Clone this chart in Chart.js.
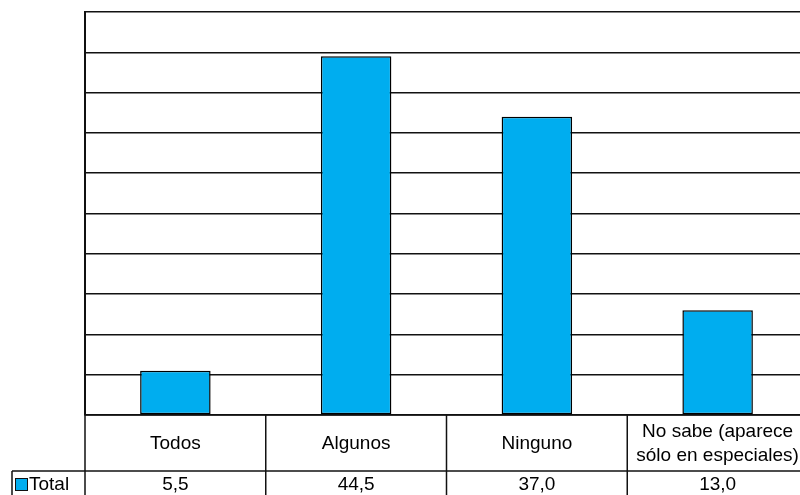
<!DOCTYPE html>
<html>
<head>
<meta charset="utf-8">
<script src="https://cdn.jsdelivr.net/npm/chart.js@4.4.1/dist/chart.umd.min.js"></script>
<style>
    html, body { margin: 0; padding: 0; background: #fff; overflow: hidden; }
    #wrap { width: 820px; height: 495px; }
</style>
</head>
<body>
<div id="wrap"><canvas id="chart" width="820" height="495"></canvas></div>
<script>
// Categories (multi-line labels as arrays) and the single "Total" series
const categories = ['Todos', 'Algunos', 'Ninguno', ['No sabe (aparece', 'sólo en especiales)']];
const seriesName = 'Total';
const totalValues = [5.5, 44.5, 37.0, 13.0];

const yMax = 50;
const yStep = 5;

const barColor = '#00adef';
const lineColor = '#111';
const tableFont = '19px "Liberation Sans", Arial, sans-serif';

// Format numbers with a decimal comma
function fmt(v) {
    return v.toFixed(1).replace('.', ',');
}

// Draws the data table under the plot: category row, value row, legend key
const dataTable = {
    id: 'dataTable',
    afterDraw(chart) {
        const ctx = chart.ctx;
        const x = chart.scales.x;
        const area = chart.chartArea;
        const rowTop = area.bottom;
        const rowMid = rowTop + 56;
        const rowEnd = chart.height + 5;
        const half = (x.getPixelForValue(1) - x.getPixelForValue(0)) / 2;

        ctx.save();
        ctx.strokeStyle = lineColor;
        ctx.lineWidth = 1.5;

        // horizontal rule between label row and value row
        ctx.beginPath();
        ctx.moveTo(12, rowMid);
        ctx.lineTo(chart.width, rowMid);
        ctx.stroke();

        // bottom rule of the plot
        ctx.beginPath();
        ctx.moveTo(area.left, rowTop);
        ctx.lineTo(chart.width, rowTop);
        ctx.stroke();

        // column separators
        ctx.beginPath();
        ctx.moveTo(area.left, area.top);
        ctx.lineTo(area.left, rowEnd);
        categories.forEach((c, i) => {
            const r = x.getPixelForValue(i) + half;
            ctx.moveTo(r, rowTop);
            ctx.lineTo(r, rowEnd);
        });
        // legend cell left edge
        ctx.moveTo(12, rowMid);
        ctx.lineTo(12, rowEnd);
        ctx.stroke();

        ctx.fillStyle = '#000';
        ctx.font = tableFont;
        ctx.textAlign = 'center';
        ctx.textBaseline = 'middle';

        const labelCenter = (rowTop + rowMid) / 2;
        const valueCenter = rowMid + 14;

        categories.forEach((c, i) => {
            const cx = x.getPixelForValue(i);
            const lines = Array.isArray(c) ? c : [c];
            const lh = 24;
            const start = labelCenter - (lines.length - 1) * lh / 2 + 1;
            lines.forEach((ln, j) => ctx.fillText(ln, cx, start + j * lh));
            ctx.fillText(fmt(totalValues[i]), cx, valueCenter);
        });

        // legend key
        ctx.fillStyle = barColor;
        ctx.fillRect(15.5, valueCenter - 6.5, 12, 12);
        ctx.lineWidth = 1;
        ctx.strokeStyle = '#111';
        ctx.strokeRect(15.5, valueCenter - 6.5, 12, 12);
        ctx.fillStyle = '#000';
        ctx.textAlign = 'left';
        ctx.fillText(seriesName, 29, valueCenter);

        ctx.restore();
    }
};

new Chart(document.getElementById('chart'), {
    type: 'bar',
    data: {
        labels: categories,
        datasets: [{
            label: seriesName,
            data: totalValues,
            backgroundColor: barColor,
            borderColor: '#000',
            borderWidth: 1.5,
            borderSkipped: false,
            barPercentage: 0.39,
            categoryPercentage: 1
        }]
    },
    options: {
        responsive: false,
        animation: false,
        layout: {
            padding: { left: 85, top: 12, right: 12, bottom: 80 }
        },
        plugins: {
            legend: { display: false },
            tooltip: { enabled: false }
        },
        scales: {
            x: {
                display: false
            },
            y: {
                min: 0,
                max: yMax,
                afterFit: s => { s.width = 0; },
                ticks: { display: false, stepSize: yStep },
                grid: {
                    color: lineColor,
                    lineWidth: 1.5,
                    drawTicks: false
                },
                border: { display: true, color: lineColor, width: 2 }
            }
        }
    },
    plugins: [dataTable]
});
</script>
</body>
</html>
